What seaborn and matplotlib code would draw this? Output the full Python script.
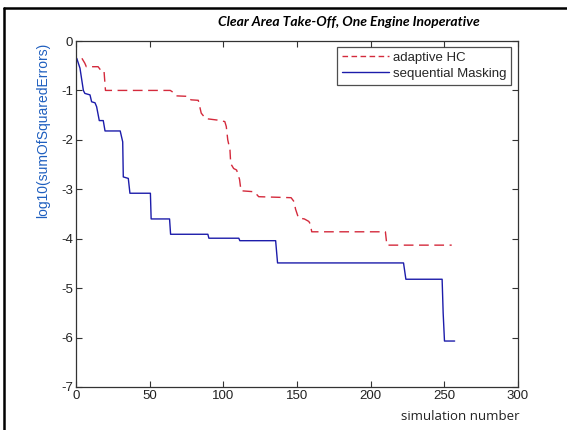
import matplotlib
matplotlib.use("Agg")
import matplotlib.pyplot as plt
import seaborn as sns
import pandas as pd
from matplotlib.lines import Line2D

# --- data ---
hc_x = [4, 6, 7, 15, 17, 19, 20, 64, 66, 68, 76, 78, 83, 85, 88, 96, 101, 102, 103,
        104.5, 105, 107, 109, 111, 112, 121, 124, 146, 148, 149, 151, 155, 158, 159,
        160, 210, 211, 255]
hc_y = [-0.35, -0.45, -0.52, -0.52, -0.6, -0.6, -1.0, -1.0, -1.04, -1.11, -1.12, -1.19,
        -1.2, -1.46, -1.57, -1.6, -1.63, -1.73, -2.0, -2.2, -2.48, -2.58, -2.61, -2.8,
        -3.03, -3.05, -3.15, -3.17, -3.25, -3.4, -3.58, -3.6, -3.65, -3.7, -3.86, -3.86,
        -4.13, -4.13]

sm_x = [0.5, 2.7, 5, 6, 9.5, 10.6, 12.9, 14, 15.8, 18.5, 19.7, 30, 31.7, 32.1, 35.5,
        36.6, 50.5, 51, 63.5, 64.2, 89.5, 90.2, 110.5, 111.2, 135.5, 136.8, 222.3,
        223.9, 248.5, 249.2, 250.1, 257]
sm_y = [-0.35, -0.55, -1.0, -1.06, -1.09, -1.23, -1.25, -1.33, -1.61, -1.61, -1.82,
        -1.82, -2.04, -2.75, -2.78, -3.08, -3.08, -3.6, -3.6, -3.91, -3.91, -3.99, -3.99,
        -4.04, -4.04, -4.49, -4.49, -4.82, -4.82, -5.5, -6.07, -6.07]

series_names = ["adaptive HC", "sequential Masking"]
x_ticks = [0, 50, 100, 150, 200, 250, 300]
y_ticks = [0, -1, -2, -3, -4, -5, -6, -7]

title_text = "Clear Area Take-Off, One Engine Inoperative"
xlabel_text = "simulation number"
ylabel_text = "log10(sumOfSquaredErrors)"

df_hc = pd.DataFrame({"x": hc_x, "y": hc_y})
df_sm = pd.DataFrame({"x": sm_x, "y": sm_y})

sns.set_theme(style="white")
plt.rcParams["font.family"] = ["Liberation Sans", "DejaVu Sans"]

fig = plt.figure(figsize=(5.67, 4.30), dpi=100)
fig.patch.set_facecolor("white")
ax = fig.add_axes([76 / 567, 1 - 387 / 430, (518 - 76) / 567, (387 - 41) / 430])

red = "#d42a3c"
blue = "#1c1caa"
sns.lineplot(data=df_hc, x="x", y="y", ax=ax, sort=False, estimator=None,
             color=red, linewidth=1.0, linestyle=(0, (7, 4)))
sns.lineplot(data=df_sm, x="x", y="y", ax=ax, sort=False, estimator=None,
             color=blue, linewidth=1.0)

ax.set_xlim(0, 300)
ax.set_ylim(-7, 0)
ax.set_xticks(x_ticks)
ax.set_yticks(y_ticks)
ax.set_xticklabels([str(v) for v in x_ticks], fontsize=9.5, color="#222222")
ax.set_yticklabels([str(v) for v in y_ticks], fontsize=9.5, color="#222222")
ax.tick_params(direction="in", length=4, width=0.8, top=True, right=True,
               bottom=True, left=True, pad=2, colors="#333333")
for lab in ax.get_xticklabels() + ax.get_yticklabels():
    lab.set_color("#222222")
for s in ax.spines.values():
    s.set_color("#333333")
    s.set_linewidth(0.9)
ax.set_xlabel("")
ax.set_ylabel("")

handles = [Line2D([], [], color=red, linewidth=1.0, linestyle=(0, (4, 2.5))),
           Line2D([], [], color=blue, linewidth=1.0)]
leg = ax.legend(handles, series_names, loc="upper right", bbox_to_anchor=(0.985, 0.983),
                fontsize=9.5, frameon=True, fancybox=False, handlelength=3.6,
                handletextpad=0.3, borderpad=0.35, labelspacing=0.3, borderaxespad=0)
leg.get_frame().set_edgecolor("#222222")
leg.get_frame().set_linewidth(0.9)

fig.text(480 / 567, 1 - 22 / 430, title_text, ha="right", va="center",
         fontsize=10, fontweight="bold", fontstyle="italic",
         family=["Lato", "DejaVu Sans"], color="black")
fig.text(520 / 567, 1 - 417 / 430, xlabel_text, ha="right", va="center",
         fontsize=9.5, family=["Open Sans", "DejaVu Sans"], color="#222222")
fig.text(43 / 567, 1 - 130 / 430, ylabel_text, ha="center", va="center",
         rotation=90, fontsize=10, color="#1f5fbf")

# outer frame (left and top edges visible)
fig.add_artist(Line2D([4 / 567, 4 / 567], [0, 1 - 8 / 430], transform=fig.transFigure,
                      color="black", linewidth=1.8))
fig.add_artist(Line2D([4 / 567, 1], [1 - 8 / 430, 1 - 8 / 430], transform=fig.transFigure,
                      color="black", linewidth=1.8))

fig.savefig("out.png", dpi=100, facecolor="white")
